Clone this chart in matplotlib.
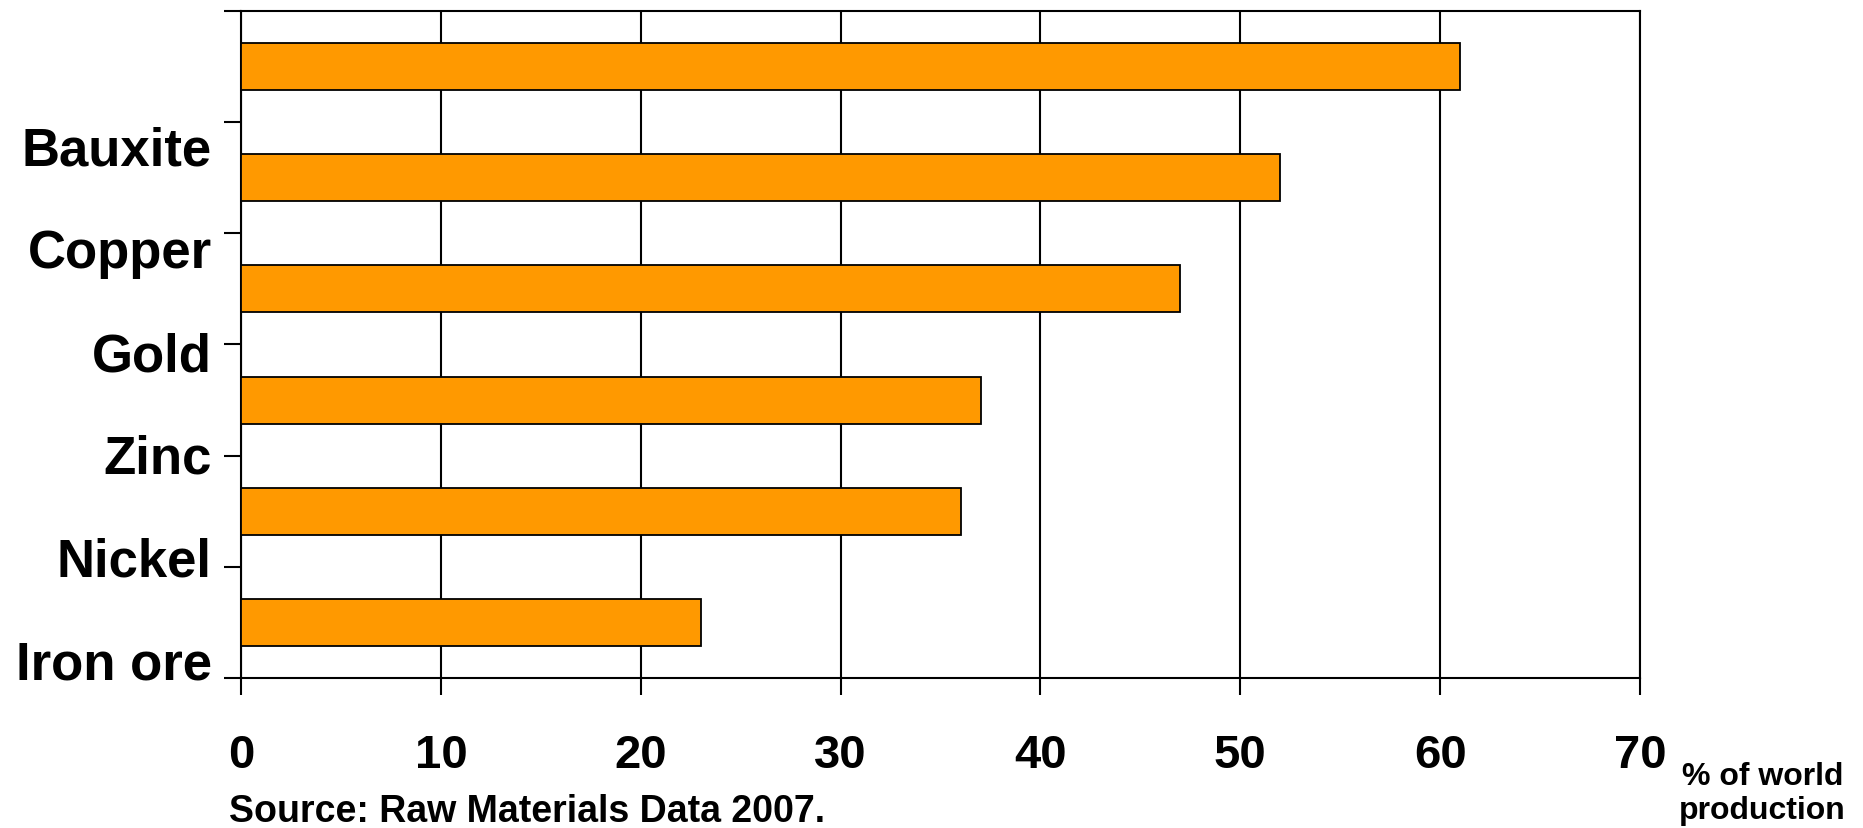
import matplotlib.pyplot as plt
import numpy as np

# share of world production, top bar first
values = [61, 52, 47, 37, 36, 23]
labels = ["Bauxite", "Copper", "Gold", "Zinc", "Nickel", "Iron ore"]
xticks = [0, 10, 20, 30, 40, 50, 60, 70]

plt.rcParams["font.family"] = ["Liberation Sans", "DejaVu Sans"]
plt.rcParams["font.weight"] = "bold"

fig = plt.figure(figsize=(18.63, 8.29), dpi=100)
ax = fig.add_axes([0.1294, 0.1805, 0.7509, 0.8055])

pos = np.arange(len(values))
ax.barh(pos, values, height=0.42, color="#FF9900", edgecolor="black", linewidth=1.3, zorder=3)

ax.set_xlim(0, 70)
ax.set_ylim(len(values) - 0.5, -0.5)
ax.set_xticks(xticks)
ax.set_xticklabels([str(t) for t in xticks], fontsize=34, fontweight="bold")
ax.set_yticks(np.arange(len(values) + 1) - 0.5)
ax.set_yticklabels([])
ax.tick_params(axis="x", direction="out", length=12, width=1.5, pad=27)
ax.tick_params(axis="y", direction="out", length=12, width=1.5)
ax.grid(axis="x", color="black", linewidth=1.5, zorder=1)
for s in ax.spines.values():
    s.set_linewidth(1.5)

# category labels sit a bit off the slots, as in the original slide
lab_y = 0.885 + 0.923 * np.arange(len(labels))
for y, lab in zip(lab_y, labels):
    ax.text(-0.021, y, lab, transform=ax.get_yaxis_transform(), ha="right", va="baseline",
            fontsize=38, fontweight="bold")

fig.text(0.123, 0.009, "Source: Raw Materials Data 2007.", fontsize=27, fontweight="bold",
         ha="left", va="baseline")
fig.text(0.946, 0.081, "% of world\nproduction", fontsize=23, fontweight="bold",
         ha="center", va="top", linespacing=1.2)

fig.savefig("out.png", dpi=100)
